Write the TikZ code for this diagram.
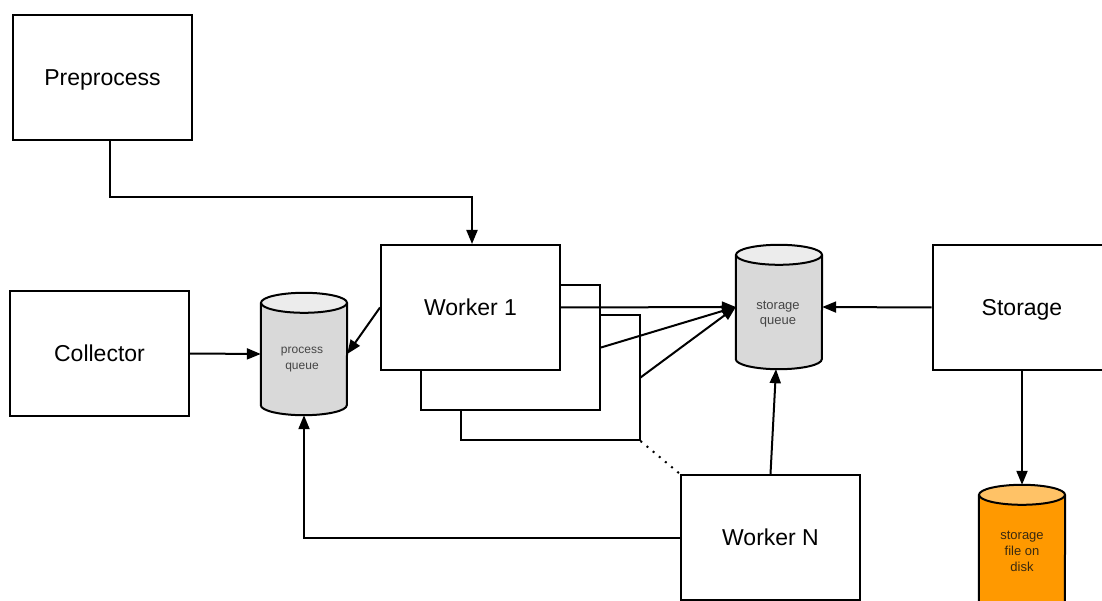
\documentclass[tikz,border=0pt]{standalone}
\usepackage{fontspec}
\setmainfont{Liberation Sans}
\usetikzlibrary{arrows.meta}

\definecolor{qbody}{HTML}{D9D9D9}
\definecolor{qtop}{HTML}{ECECEC}
\definecolor{fbody}{HTML}{FF9900}
\definecolor{ftop}{HTML}{FFC266}
\definecolor{qlabel}{HTML}{454545}
\definecolor{flabel}{HTML}{3A2A10}

% cylinder outline built on a plain node: #1 node name, #2 body fill, #3 lid fill
\newcommand{\drum}[3]{%
  \fill[#2] ([yshift=-10pt]#1.north west) -- ([yshift=10pt]#1.south west)
    arc[start angle=180, end angle=360, x radius=43pt, y radius=10pt]
    -- ([yshift=-10pt]#1.north east) -- cycle;
  \draw[stroke] ([yshift=-10pt]#1.north west) -- ([yshift=10pt]#1.south west)
    arc[start angle=180, end angle=360, x radius=43pt, y radius=10pt]
    -- ([yshift=-10pt]#1.north east);
  \filldraw[stroke, fill=#3] ([yshift=-10pt]#1.north) ellipse[x radius=43pt, y radius=10pt];
}

\tikzset{
  stroke/.style={line width=2pt, draw=black},
  box/.style={draw, line width=2pt, fill=white, minimum width=179pt,
    minimum height=125pt, inner sep=0pt, text depth=0pt,
    font=\fontsize{23}{28}\selectfont},
  drumbody/.style={minimum width=86pt, inner sep=0pt, align=center},
  arr/.style={stroke, -{Triangle[length=14pt, width=11pt]}},
}

\begin{document}
\begin{tikzpicture}[x=1pt, y=-1pt]
  \clip (0,0) rectangle (1102,601);
  \fill[white] (0,0) rectangle (1102,601);

  % processing boxes
  \node[box] (pre) at (102.5,78) {Preprocess};
  \node[box] (col) at (99.5,353.5) {Collector};
  \node[box] (w3) at (550,377.5) {};
  \node[box] (w2) at (510.5,347.5) {};
  \node[box] (w1) at (470.5,307.5) {Worker 1};
  \node[box] (wn) at (770.5,537.5) {Worker N};
  \node[box] (st) at (1022,307.5) {Storage};

  % queues and the file store
  \node[drumbody, minimum height=122pt] (pq) at (304,354) {};
  \drum{pq}{qbody}{qtop}
  \node[align=center, text=qlabel, font=\fontsize{12}{16}\selectfont] at (302,360) {process\\queue};

  \node[drumbody, minimum height=124pt] (sq) at (779,307) {};
  \drum{sq}{qbody}{qtop}
  \node[align=center, text=qlabel, font=\fontsize{13}{15.5}\selectfont] at (778,314) {storage\\queue};

  \node[drumbody, minimum height=130pt] (sf) at (1022,550) {};
  \drum{sf}{fbody}{ftop}
  \node[align=center, text=flabel, font=\fontsize{13}{16}\selectfont] at (1022,551) {storage\\file on\\disk};

  % connectors
  \draw[arr] ([xshift=7.5pt]pre.south) -- ++(0,56) -| ([xshift=1.5pt]w1.north);
  \draw[arr] (col.east) -- (pq.west);
  \draw[arr] (w1.west) -- (pq.east);
  \draw[arr] (wn.west) -| (pq.south);
  \draw[arr] (w1.east) -- (sq.west);
  \draw[arr] (w2.east) -- (sq.west);
  \draw[arr] (w3.east) -- (sq.west);
  \draw[arr] (wn.north) -- ([xshift=-3pt]sq.south);
  \draw[arr] (st.west) -- (sq.east);
  \draw[arr] (st.south) -- (sf.north);
  \draw[stroke, dash pattern=on 2pt off 6pt] (w3.south east) -- (wn.north west);
\end{tikzpicture}
\end{document}
